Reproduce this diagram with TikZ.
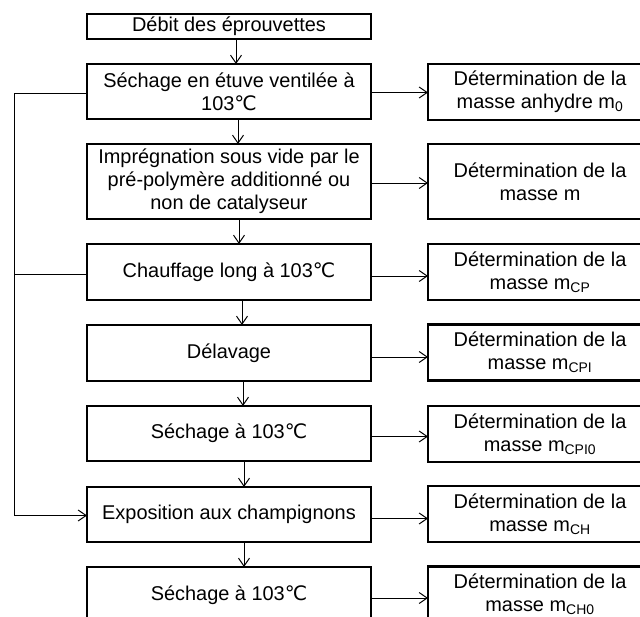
\documentclass[tikz,border=0pt]{standalone}
\usepackage{fontspec}
\setmainfont{Liberation Sans}
\newfontfamily\dejavu{DejaVu Sans}
\usetikzlibrary{arrows.meta}
\newcommand{\degC}{{\dejavu ℃}}
\begin{document}
\begin{tikzpicture}[x=1bp,y=-1bp,
  box/.style={draw, line width=2.2bp, minimum width=284bp, minimum height=56bp, inner sep=0pt, outer sep=0pt, align=center, font=\fontsize{20}{23}\selectfont},
  rbox/.style={box, minimum width=224bp},
  wire/.style={line width=1bp},
  conn/.style={wire, -{Straight Barb[length=8bp,width=11bp]}}]
\useasboundingbox (0,0) rectangle (640,617);
\clip (0,0) rectangle (640,617);
% left column
\node[box, minimum height=25bp] (deb) at (229,26.5) {Débit des éprouvettes};
\node[box, minimum height=55bp] (s1) at (229,91.5) {Séchage en étuve ventilée à\\103\degC};
\node[box, minimum height=75bp] (imp) at (229,181.5) {Imprégnation sous vide par le\\pré-polymère additionné ou\\non de catalyseur};
\node[box] (ch) at (229,272) {Chauffage long à 103\degC};
\node[box] (del) at (229,353) {Délavage};
\node[box, minimum height=55bp] (s2) at (229,433.5) {Séchage à 103\degC};
\node[box, minimum height=55bp] (exp) at (229,514.5) {Exposition aux champignons};
\node[box] (s3) at (229,595) {Séchage à 103\degC};
% right column
\node[rbox] (r1) at (540,92) {Détermination de la\\masse anhydre m\textsubscript{0}};
\node[rbox, minimum height=75bp] (r2) at (540,181.5) {Détermination de la\\masse m};
\node[rbox] (r3) at (540,272) {Détermination de la\\masse m\textsubscript{CP}};
\node[rbox] (r4) at (540,352.5) {Détermination de la\\masse m\textsubscript{CPI}};
\node[rbox] (r5) at (540,434) {Détermination de la\\masse m\textsubscript{CPI0}};
\node[rbox] (r6) at (540,514) {Détermination de la\\masse m\textsubscript{CH}};
\node[rbox] (r7) at (540,594.5) {Détermination de la\\masse m\textsubscript{CH0}};
% vertical arrows
\draw[conn] ([xshift=7bp]deb.south) -- ([xshift=7bp]deb.south |- s1.north);
\draw[conn] ([xshift=9bp]s1.south) -- ([xshift=9bp]s1.south |- imp.north);
\draw[conn] ([xshift=10bp]imp.south) -- ([xshift=10bp]imp.south |- ch.north);
\draw[conn] ([xshift=13bp]ch.south) -- ([xshift=13bp]ch.south |- del.north);
\draw[conn] ([xshift=14bp]del.south) -- ([xshift=14bp]del.south |- s2.north);
\draw[conn] ([xshift=15bp]s2.south) -- ([xshift=15bp]s2.south |- exp.north);
\draw[conn] ([xshift=15bp]exp.south) -- ([xshift=15bp]exp.south |- s3.north);
% horizontal arrows
\draw[conn] ([yshift=-1bp]s1.east) -- ([yshift=-1bp]s1.east -| r1.west);
\draw[conn] ([yshift=-1.5bp]imp.east) -- ([yshift=-1.5bp]imp.east -| r2.west);
\draw[conn] ([yshift=-4bp]ch.east) -- ([yshift=-4bp]ch.east -| r3.west);
\draw[conn] ([yshift=-4bp]del.east) -- ([yshift=-4bp]del.east -| r4.west);
\draw[conn] ([yshift=-3bp]s2.east) -- ([yshift=-3bp]s2.east -| r5.west);
\draw[conn] ([yshift=-4bp]exp.east) -- ([yshift=-4bp]exp.east -| r6.west);
\draw[conn] ([yshift=-3bp]s3.east) -- ([yshift=-3bp]s3.east -| r7.west);
% loop on the left
\coordinate (L) at (14,300);
\draw[conn] ([yshift=-2bp]s1.west) -- ([yshift=-2bp]s1.west -| L) -- ([yshift=-1bp]exp.west -| L) -- ([yshift=-1bp]exp.west);
\draw[wire] ([yshift=-2bp]ch.west) -- ([yshift=-2bp]ch.west -| L);
\end{tikzpicture}
\end{document}
